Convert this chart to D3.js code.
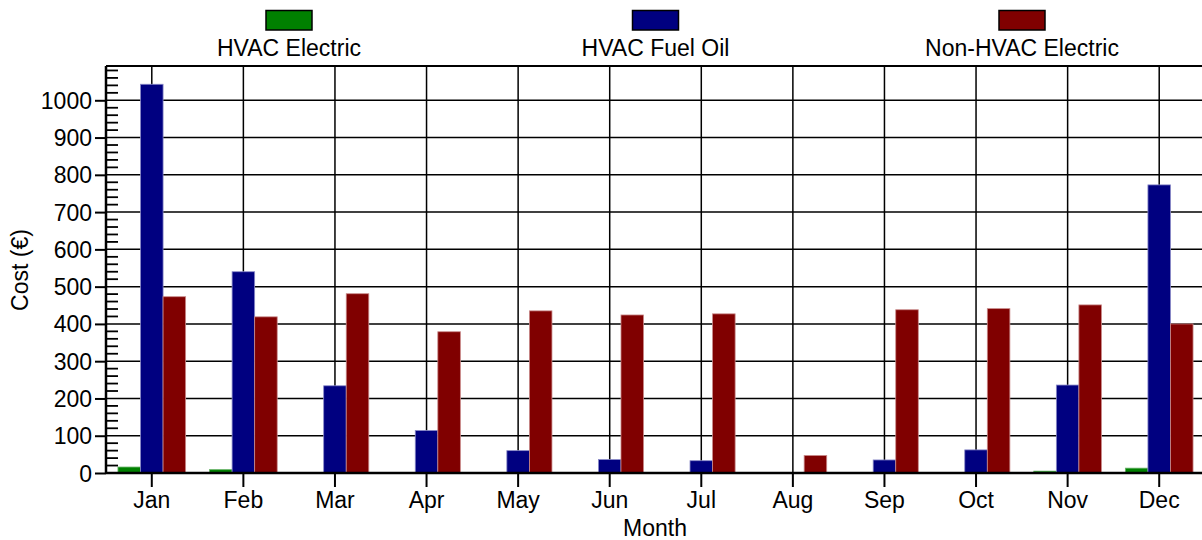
<!DOCTYPE html>
<html>
<head>
<meta charset="utf-8">
<script src="https://cdn.jsdelivr.net/npm/d3@7"></script>
<style>
  html, body { margin: 0; padding: 0; background: #fff; }
  svg { display: block; font-family: "Liberation Sans", Arial, Helvetica, sans-serif; }
</style>
</head>
<body>
<svg id="chart" width="1202" height="540"></svg>
<script>
// Monthly cost per end use
const months = ["Jan", "Feb", "Mar", "Apr", "May", "Jun", "Jul", "Aug", "Sep", "Oct", "Nov", "Dec"];
const hvacElectric = [16, 9, 2, 1, 0.5, 0.5, 0.5, 0, 1, 1, 5, 13];
const hvacFuelOil = [1043, 540, 234, 114, 60, 36, 33, 0, 35, 62, 236, 773];
const nonHvacElectric = [473, 419, 481, 379, 435, 424, 427, 47, 438, 441, 451, 400];
const seriesNames = ["HVAC Electric", "HVAC Fuel Oil", "Non-HVAC Electric"];
const seriesColors = ["#008000", "#000080", "#800000"];
const seriesEdges = ["#66b366", "#8a8ac8", "#c98a8a"];
const yTicks = [0, 100, 200, 300, 400, 500, 600, 700, 800, 900, 1000];

const series = [hvacElectric, hvacFuelOil, nonHvacElectric];
const FS = 23;

const svg = d3.select("#chart");
const margin = { left: 106, top: 66, right: -3, bottom: 67 };
const W = 1202, H = 540;
const x0 = margin.left, x1 = W - margin.right;
const y0 = H - margin.bottom, y1 = margin.top;

const x = d3.scaleBand().domain(months).range([x0, x1]).paddingInner(0).paddingOuter(0);
const xs = d3.scaleBand().domain(d3.range(3)).range([0, x.bandwidth()]).paddingOuter(0.53).paddingInner(0);
const y = d3.scaleLinear().domain([0, 1092]).range([y0, y1]);

// horizontal grid
svg.append("g").selectAll("line").data(yTicks).join("line")
  .attr("x1", x0).attr("x2", x1)
  .attr("y1", d => y(d)).attr("y2", d => y(d))
  .attr("stroke", "#000").attr("stroke-width", 1.5);

// vertical grid at month centres
svg.append("g").selectAll("line").data(months).join("line")
  .attr("x1", d => x(d) + x.bandwidth() / 2).attr("x2", d => x(d) + x.bandwidth() / 2)
  .attr("y1", y1).attr("y2", y0)
  .attr("stroke", "#000").attr("stroke-width", 1.5);

// bars
const groups = svg.append("g").selectAll("g").data(series).join("g");
groups.each(function (vals, si) {
  d3.select(this).selectAll("rect").data(vals.map((v, i) => ({ m: months[i], v })))
    .join("rect")
    .attr("x", d => x(d.m) + xs(si))
    .attr("width", xs.bandwidth())
    .attr("y", d => y(d.v))
    .attr("height", d => y(0) - y(d.v))
    .attr("fill", seriesColors[si])
    .attr("stroke", seriesEdges[si])
    .attr("stroke-width", d => d.v > 3 ? 0.8 : 0);
});

// frame: top edge
svg.append("line").attr("x1", x0).attr("x2", x1).attr("y1", y1).attr("y2", y1)
  .attr("stroke", "#000").attr("stroke-width", 2);

// y axis
const yAxis = d3.axisLeft(y).tickValues(yTicks).tickSize(11).tickPadding(3).tickFormat(d3.format("d"));
const gy = svg.append("g").attr("transform", `translate(${x0},0)`).call(yAxis);
gy.select(".domain").attr("d", `M0,${y0}V${y1}`).attr("stroke-width", 2.5);
gy.selectAll(".tick line").attr("stroke-width", 2);
gy.selectAll("text").attr("font-size", FS).attr("fill", "#000").attr("dy", "0.35em");

// minor ticks pointing inward
const minor = d3.range(0, 1092, 20).filter(v => v % 100 !== 0);
svg.append("g").selectAll("line").data(minor).join("line")
  .attr("x1", x0).attr("x2", x0 + 12)
  .attr("y1", d => y(d)).attr("y2", d => y(d))
  .attr("stroke", "#000").attr("stroke-width", 1.8);

// x axis
const xAxis = d3.axisBottom(x).tickSize(14).tickPadding(5);
const gx = svg.append("g").attr("transform", `translate(0,${y0})`).call(xAxis);
gx.select(".domain").attr("d", `M${x0},0H${x1}`).attr("stroke-width", 2.5);
gx.selectAll(".tick line").attr("stroke-width", 2);
gx.selectAll("text").attr("font-size", FS).attr("fill", "#000");

// axis titles
svg.append("text").attr("x", 655).attr("y", 536).attr("text-anchor", "middle")
  .attr("font-size", FS).text("Month");
svg.append("text").attr("transform", "translate(28,270) rotate(-90)").attr("text-anchor", "middle")
  .attr("font-size", FS).text("Cost (€)");

// legend
const legendX = d3.scalePoint().domain(seriesNames).range([289, 1022]);
const lg = svg.append("g").selectAll("g").data(seriesNames).join("g")
  .attr("transform", d => `translate(${legendX(d)},0)`);
lg.append("rect").attr("x", -23).attr("y", 10.5).attr("width", 46).attr("height", 19.5)
  .attr("fill", (d, i) => seriesColors[i]).attr("stroke", "#000").attr("stroke-width", 1.5);
lg.append("text").attr("y", 56).attr("text-anchor", "middle").attr("font-size", FS).text(d => d);
</script>
</body>
</html>
